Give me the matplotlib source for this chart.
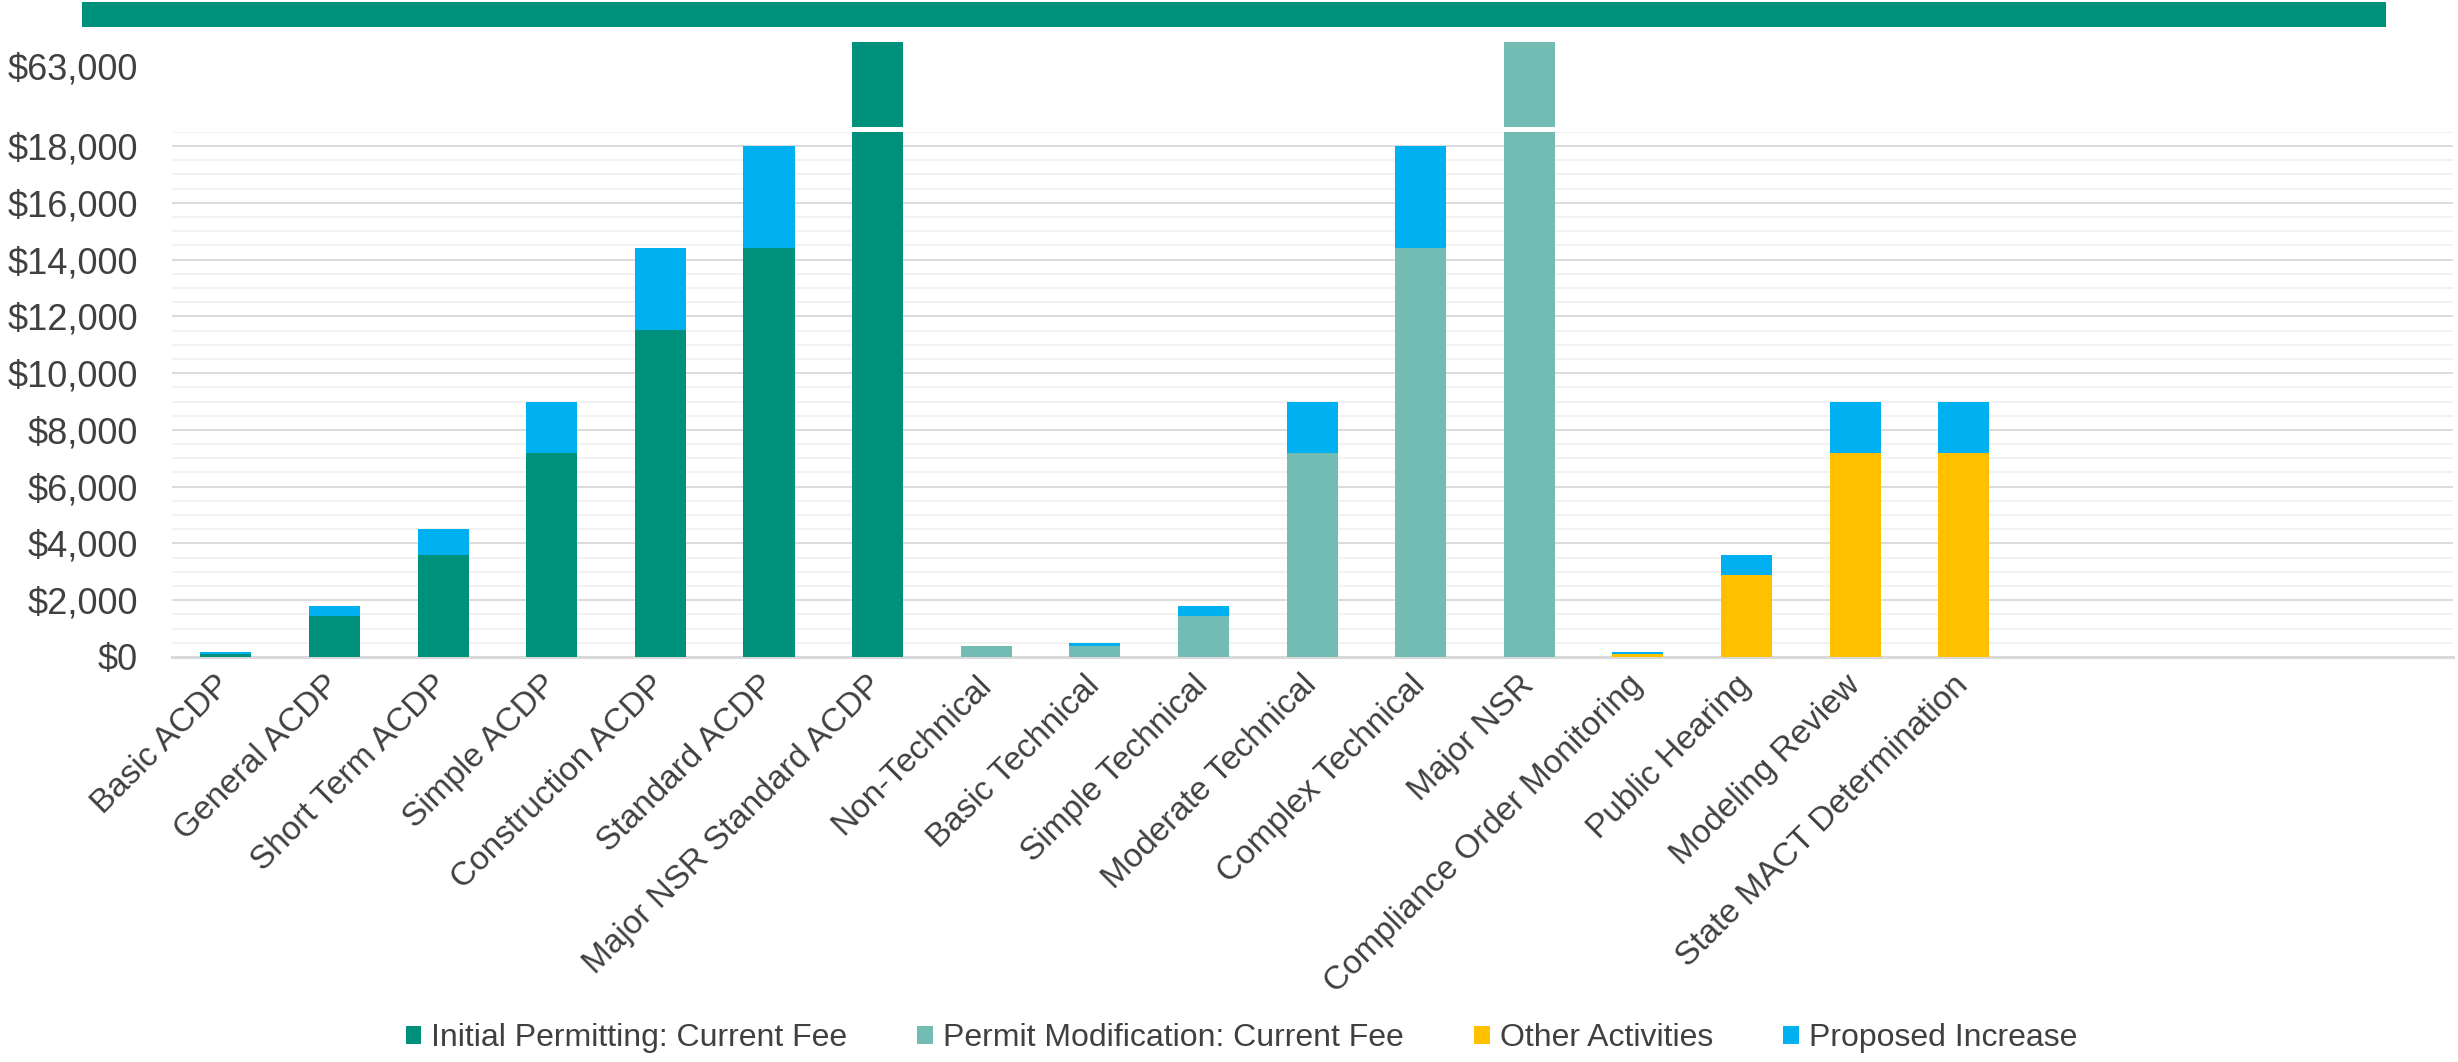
import numpy as np
import matplotlib
matplotlib.use("Agg")
from matplotlib import pyplot as plt
from matplotlib.patches import Patch, Rectangle
from matplotlib.transforms import ScaledTranslation

plt.rcParams["font.family"] = ["Liberation Sans", "DejaVu Sans"]

categories = [
    "Basic ACDP", "General ACDP", "Short Term ACDP", "Simple ACDP",
    "Construction ACDP", "Standard ACDP", "Major NSR Standard ACDP",
    "Non-Technical", "Basic Technical", "Simple Technical", "Moderate Technical",
    "Complex Technical", "Major NSR", "Compliance Order Monitoring",
    "Public Hearing", "Modeling Review", "State MACT Determination",
]
initial_fee = [120, 1440, 3600, 7200, 11520, 14400, 63000,
               0, 0, 0, 0, 0, 0, 0, 0, 0, 0]
modification_fee = [0, 0, 0, 0, 0, 0, 0,
                    400, 400, 1440, 7200, 14400, 63000, 0, 0, 0, 0]
other_fee = [0, 0, 0, 0, 0, 0, 0,
             0, 0, 0, 0, 0, 0, 120, 2880, 7200, 7200]
proposed_increase = [40, 360, 900, 1800, 2880, 3600, 0,
                     0, 100, 360, 1800, 3600, 0, 40, 720, 1800, 1800]

series_names = ["Initial Permitting: Current Fee", "Permit Modification: Current Fee",
                "Other Activities", "Proposed Increase"]
series_colors = ["#00917D", "#73BCB4", "#FFC000", "#00B0F0"]
text_color = "#404040"

x = np.arange(len(categories))
current = np.array(initial_fee) + np.array(modification_fee) + np.array(other_fee)
width = 0.47

fig = plt.figure(figsize=(24.58, 10.62), dpi=100)
ax = fig.add_axes([0.0698, 0.3814, 0.928, 0.4944])
top = fig.add_axes([0.0698, 0.8804, 0.928, 0.080])

for a in (ax, top):
    a.bar(x, initial_fee, width, color=series_colors[0], zorder=3)
    a.bar(x, modification_fee, width, color=series_colors[1], zorder=3)
    a.bar(x, other_fee, width, color=series_colors[2], zorder=3)
    a.bar(x, proposed_increase, width, bottom=current, color=series_colors[3], zorder=3)
    a.set_xlim(-0.5, 20.5)
    for s in a.spines.values():
        s.set_visible(False)

# lower part of the broken axis
ax.set_ylim(0, 18500)
ax.set_yticks(np.arange(0, 18001, 2000))
ax.set_yticklabels([f"${v:,.0f}" for v in np.arange(0, 18001, 2000)])
ax.set_yticks(np.arange(0, 18501, 500), minor=True)
ax.grid(axis="y", which="minor", color="#F2F2F2", lw=1.5, zorder=0)
ax.grid(axis="y", which="major", color="#D9D9D9", lw=1.3, zorder=1)
ax.spines["bottom"].set_visible(True)
ax.spines["bottom"].set_color("#D9D9D9")
ax.spines["bottom"].set_linewidth(2.2)
ax.tick_params(axis="y", which="both", length=0, pad=24, labelsize=26, labelcolor=text_color)
ax.set_xticks(x)
ax.set_xticklabels(categories, rotation=45, ha="right", va="center",
                   rotation_mode="anchor")
ax.tick_params(axis="x", length=0, pad=17, labelsize=24, labelcolor=text_color)

# upper part holds only the two tall bars
top.set_ylim(60000, 63000)
top.set_yticks([63000])
top.set_yticklabels(["$63,000"])
top.tick_params(axis="y", length=0, pad=24, labelsize=26, labelcolor=text_color)
top.set_xticks([])
for lbl in top.get_yticklabels():
    lbl.set_transform(lbl.get_transform() + ScaledTranslation(0, -0.24, fig.dpi_scale_trans))

# banner across the top
fig.patches.append(Rectangle((0.0334, 0.9746), 0.9373, 0.0235, transform=fig.transFigure,
                             facecolor=series_colors[0], edgecolor="none"))

handles = [Patch(facecolor=c, edgecolor="none") for c in series_colors]
fig.legend(handles, series_names, loc="center", bbox_to_anchor=(0.505, 0.0226), ncol=4,
           frameon=False, fontsize=23, handlelength=0.5, handleheight=0.5,
           handletextpad=0.3, columnspacing=2.2, labelcolor=text_color)

fig.savefig("out.png", dpi=100)
